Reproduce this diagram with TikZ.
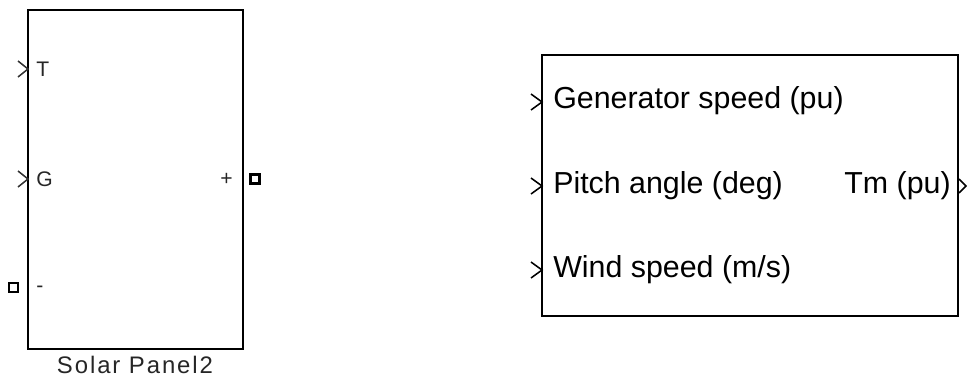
\documentclass[tikz,border=0pt]{standalone}
\usepackage{fontspec}
\setmainfont{Liberation Sans}
\usetikzlibrary{positioning}

\begin{document}
\begin{tikzpicture}[x=0.025cm, y=-0.025cm,
	block/.style={shape=rectangle, draw, inner sep=0pt},
	pin/.style={draw=black!80, line width=1.1pt},
	conn/.style={shape=rectangle, draw, line width=1.6pt, minimum size=0.22cm, inner sep=0pt},
	lbl/.style={inner sep=0pt, text=black!85, font=\fontsize{15}{15}\selectfont},
	txt/.style={inner sep=0pt, font=\fontsize{21.6}{22}\selectfont}]
	% Frame:
	\useasboundingbox (0,0) rectangle (967,377);
	% Solar panel block, ports and labels:
	\node[block, line width=1.5pt, minimum width=5.375cm, minimum height=8.475cm] (panel) at (135.5,179.5){};
	\node[lbl, anchor=base west] (lblT) at (36,76){T};
	\node[lbl, anchor=base west] (lblG) at (36,186){G};
	\node[lbl, anchor=base west] (lblneg) at (36,292){-};
	\node[lbl, anchor=base east] (lblpos) at (233,185){+};
	\node[lbl, anchor=base, font=\fontsize{17}{17}\selectfont\addfontfeature{LetterSpace=8}] (lblpanel) at (135,373){Solar Panel2};
	\coordinate (inT) at (28,69);
	\coordinate (inG) at (28,179);
	\draw[pin] (inT) ++(-10,-8) -- (inT) -- ++(-10,8);
	\draw[pin] (inG) ++(-10,-8) -- (inG) -- ++(-10,8);
	\node[conn] (neg) at (13.5,287.5){};
	\node[conn] (pos) at (255,179){};
	% Wind turbine block, ports and labels:
	\node[block, line width=2pt, minimum width=10.4cm, minimum height=6.525cm] (turbine) at (750,185.5){};
	\node[txt, anchor=base west] (lblspeed) at (553,108){Generator speed (pu)};
	\node[txt, anchor=base west] (lblpitch) at (553,193){Pitch angle (deg)};
	\node[txt, anchor=base west] (lblwind) at (553,277){Wind speed (m/s)};
	\node[txt, anchor=base east] (lbltm) at (951,193){Tm (pu)};
	\foreach \y/\name in {102/inspeed, 186/inpitch, 270/inwind}{
		\coordinate (\name) at (542,\y);
		\draw[pin, draw=black] (\name) ++(-11,-8) -- (\name) -- ++(-11,8);
	}
	\coordinate (outtm) at (966,186);
	\draw[pin, draw=black] (outtm) ++(-7,-7) -- (outtm) -- ++(-7,7);
\end{tikzpicture}
\end{document}
